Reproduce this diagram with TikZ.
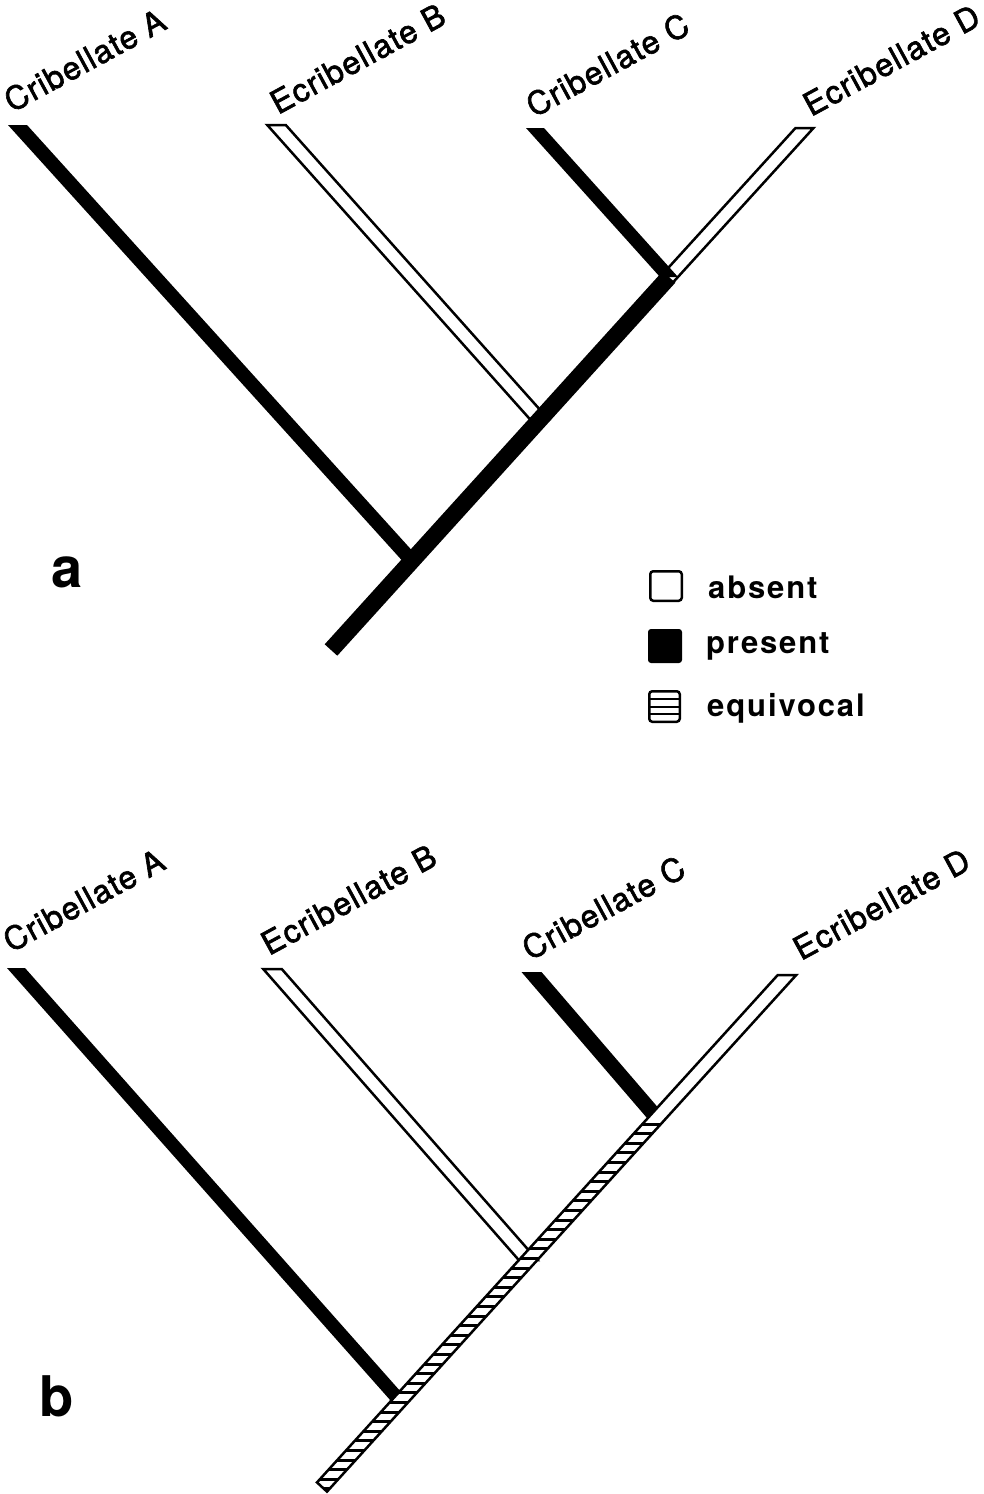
\documentclass[tikz,border=0pt]{standalone}
\usepackage{fontspec}
\setmainfont{TeX Gyre Heros}
\newfontfamily\labfont[LetterSpace=4,FakeBold=2]{TeX Gyre Heros}
\newfontfamily\legfont[LetterSpace=6]{TeX Gyre Heros}
\usetikzlibrary{calc}
\newcommand\mybranch[4]{\path[#1] ($(#2)+(-#4,0)$) -- ($(#2)+(#4,0)$) -- ($(#3)+(#4,0)$) -- ($(#3)+(-#4,0)$) -- cycle;}
\begin{document}
\begin{tikzpicture}[x=1pt,y=-1pt,line join=miter]
\tikzset{
 solidbar/.style={fill=black},
 hollowbar/.style={fill=white,draw=black,line width=2.5pt},
 taxon/.style={anchor=base west,rotate=28.5,inner sep=0pt,font=\labfont\fontsize{32}{38}\selectfont},
 legtext/.style={anchor=base west,inner sep=0pt,font=\legfont\bfseries\fontsize{31}{37}\selectfont},
 panel/.style={anchor=base west,inner sep=0pt,font=\bfseries\fontsize{56}{60}\selectfont},
 legbox/.style={line width=2.5pt,rounded corners=3pt},
}
\useasboundingbox[fill=white] (0,0) rectangle (984,1494);

% ---------- tree a ----------
\coordinate (aR) at (331,650);
\coordinate (aJA) at (412,561);
\coordinate (aJB) at (539,419);
\coordinate (aJC) at (669,277);
\coordinate (aJD) at (648,300);
\coordinate (aTA) at (17.5,125);
\coordinate (aTB) at (276.5,125);
\coordinate (aTC) at (535,128);
\coordinate (aTD) at (804.5,128);

\mybranch{hollowbar}{aTB}{aJB}{9.25}
\mybranch{hollowbar}{aTD}{aJD}{9}
\mybranch{solidbar}{aTA}{aJA}{9.5}
\mybranch{solidbar}{aTC}{aJC}{9}
\draw[line width=17pt] (aR) -- (aJC);

\node[taxon] (aLA) at (12,113) {Cribellate A};
\node[taxon] (aLB) at (278,115) {Ecribellate B};
\node[taxon] (aLC) at (534,118) {Cribellate C};
\node[taxon] (aLD) at (811,117) {Ecribellate D};
\node[panel] (pa) at (51,587) {a};

% ---------- legend ----------
\draw[legbox] (650.25,571.25) rectangle (681.75,600.75);
\fill[rounded corners=3pt] (648,629) rectangle (682,663);
\draw[legbox] (649.25,691.25) rectangle (679.75,721.75);
\foreach \yy in {699,706.5,714} \draw[line width=2pt] (649.25,\yy) -- (679.75,\yy);
\node[legtext] (tabs) at (708,598) {absent};
\node[legtext] (tpre) at (706,653) {present};
\node[legtext] (tequ) at (707,716) {equivocal};

% ---------- tree b ----------
\coordinate (bR) at (322,1487);
\coordinate (bJA) at (400,1401);
\coordinate (bJB) at (528,1260);
\coordinate (bJC) at (657,1118);
\coordinate (bTA) at (16,968);
\coordinate (bTB) at (272.5,969);
\coordinate (bTC) at (531.5,972);
\coordinate (bTD) at (787,975);
\coordinate (bL0) at (317,1482.4);
\coordinate (bR0) at (327,1491.6);
\coordinate (bLt) at (777.75,975);
\coordinate (bRt) at (796.25,975);

\mybranch{solidbar}{bTA}{bJA}{9}
\mybranch{hollowbar}{bTB}{bJB}{9.25}
\mybranch{solidbar}{bTC}{bJC}{10}

\fill[white] (bL0) -- (bR0) -- (bRt) -- (bLt) -- cycle;
\begin{scope}
\clip (bL0) -- (bR0) -- (bRt) -- (bLt) -- cycle;
\clip (0,1121) rectangle (984,1494);
\foreach \yy in {1124,1133.6,...,1494} \draw[line width=3pt] (300,\yy) -- (700,\yy);
\end{scope}
\draw[line width=2.5pt] (bL0) -- (bR0) -- (bRt) -- (bLt) -- cycle;

\node[taxon] (bLA) at (11,953) {Cribellate A};
\node[taxon] (bLB) at (269,956) {Ecribellate B};
\node[taxon] (bLC) at (530,961) {Cribellate C};
\node[taxon] (bLD) at (801,961) {Ecribellate D};
\node[panel] (pb) at (39,1416) {b};
\end{tikzpicture}
\end{document}
